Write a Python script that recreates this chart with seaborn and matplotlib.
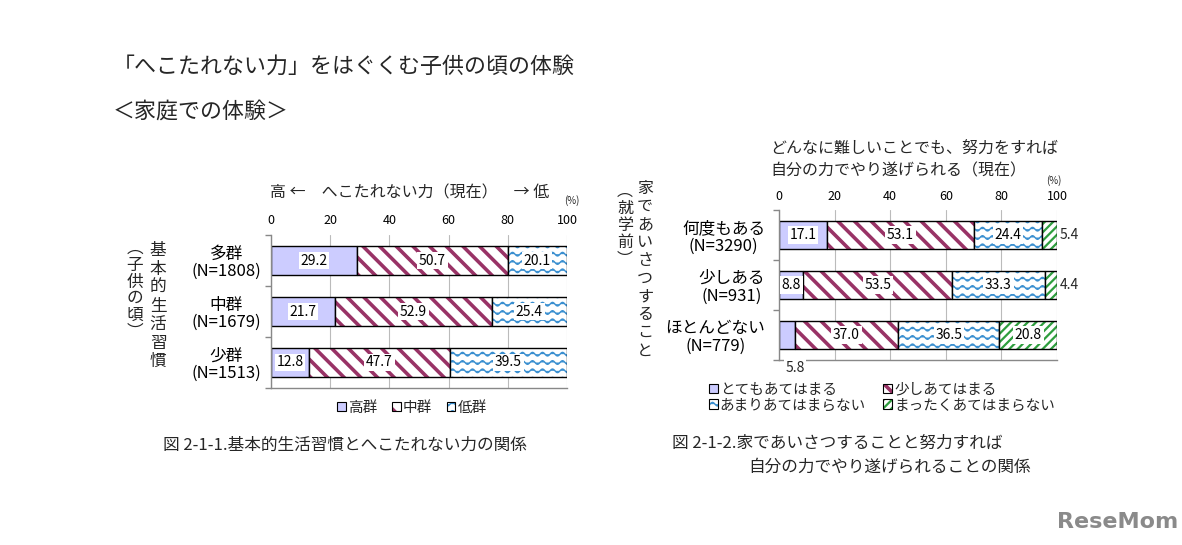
import numpy as np
import pandas as pd
import matplotlib
matplotlib.use("Agg")
import matplotlib.pyplot as plt
import matplotlib.hatch as mhatch
from matplotlib.path import Path
from matplotlib.patches import Patch
from matplotlib.colors import to_rgba
import seaborn as sns

# ---------------- data ----------------
left_categories = ["多群\n(N=1808)", "中群\n(N=1679)", "少群\n(N=1513)"]
left_series = ["高群", "中群", "低群"]
left_high = [29.2, 21.7, 12.8]
left_mid = [50.7, 52.9, 47.7]
left_low = [20.1, 25.4, 39.5]

right_categories = ["何度もある\n(N=3290)", "少しある\n(N=931)", "ほとんどない\n(N=779)"]
right_series = ["とてもあてはまる", "少しあてはまる", "あまりあてはまらない", "まったくあてはまらない"]
right_very = [17.1, 8.8, 5.8]
right_some = [53.1, 53.5, 37.0]
right_notmuch = [24.4, 33.3, 36.5]
right_notatall = [5.4, 4.4, 20.8]

x_ticks = [0, 20, 40, 60, 80, 100]


# ---------------- wavy hatch (replaces small circles 'o') ----------------
class WavyHatch(mhatch.HatchPatternBase):
    def __init__(self, hatch, density):
        self.num_lines = int(hatch.count("o") * density)
        self.npts = 161
        self.num_vertices = self.num_lines * self.npts

    def set_vertices_and_codes(self, vertices, codes):
        if self.num_lines == 0:
            return
        steps = (np.arange(self.num_lines) + 0.5) / self.num_lines
        xs = np.linspace(0.0, 1.0, self.npts)
        wave = 0.018 * np.sin(2 * np.pi * 10 * xs)
        n = self.npts
        for i, s in enumerate(steps):
            vertices[i * n:(i + 1) * n, 0] = xs
            vertices[i * n:(i + 1) * n, 1] = s + wave
            codes[i * n] = Path.MOVETO
            codes[i * n + 1:(i + 1) * n] = Path.LINETO


mhatch._hatch_types = [WavyHatch if t is mhatch.SmallCircles else t
                       for t in mhatch._hatch_types]

sns.set_theme(style="white")
plt.rcParams["font.family"] = ["Noto Sans CJK JP", "DejaVu Sans"]
plt.rcParams["hatch.linewidth"] = 1.0

W, H = 1182, 545
fig = plt.figure(figsize=(W / 100, H / 100), dpi=100)
fig.patch.set_facecolor("white")


def fx(px):
    return px / W


def fy(py):
    return 1 - py / H


STY = {
    "lav": dict(face="#CCCCFF", hatch=None, hcol=None, hlw=1.0),
    "mar": dict(face="white", hatch="\\\\", hcol="#993366", hlw=2.6),
    "wav": dict(face="white", hatch="oo", hcol="#3A8FD0", hlw=1.0),
    "grn": dict(face="white", hatch="////", hcol="#2E9E3E", hlw=1.6),
}


def style_patch(p, st):
    if st["hcol"] is not None:
        p._hatch_color = to_rgba(st["hcol"])
        if hasattr(p, "set_hatch_linewidth"):
            p.set_hatch_linewidth(st["hlw"])
        else:
            p._hatch_linewidth = st["hlw"]


def stacked(ax, cats, series_vals, styles):
    left = np.zeros(len(cats))
    for vals, key in zip(series_vals, styles):
        st = STY[key]
        n0 = len(ax.patches)
        df = pd.DataFrame({"cat": cats, "val": vals})
        sns.barplot(data=df, x="val", y="cat", orient="h", ax=ax,
                    left=left.copy(), color=st["face"], saturation=1,
                    edgecolor="black", linewidth=1.0, width=0.55,
                    hatch=st["hatch"], errorbar=None)
        for p in ax.patches[n0:]:
            style_patch(p, st)
        left += np.array(vals)


def style_axes(ax, pad_y, pad_x):
    ax.set_xlim(0, 100)
    ax.set_ylim(2.5, -0.5)
    ax.set_xlabel("")
    ax.set_ylabel("")
    ax.set_xticks(x_ticks)
    ax.xaxis.tick_top()
    ax.tick_params(axis="x", length=0, labelsize=9, pad=pad_x, colors="black")
    ax.tick_params(axis="y", which="major", length=0, labelsize=12, pad=pad_y)
    ax.set_yticks([-0.5, 0.5, 1.5, 2.5], minor=True)
    ax.tick_params(axis="y", which="minor", length=4, color="#888888",
                   direction="out", left=True)
    for lab in ax.get_yticklabels():
        lab.set_multialignment("center")
        lab.set_linespacing(1.05)
        lab.set_color("black")
    ax.grid(axis="x", color="#BBBBBB", linewidth=0.8)
    ax.set_axisbelow(True)
    for s in ["top", "right"]:
        ax.spines[s].set_visible(False)
    for s in ["left", "bottom"]:
        ax.spines[s].set_color("#888888")
        ax.spines[s].set_linewidth(1.0)


def seg_labels(ax, series_vals, skip=()):
    for i in range(len(series_vals[0])):
        acc = 0
        for j, vals in enumerate(series_vals):
            v = vals[i]
            if (i, j) not in skip:
                ax.text(acc + v / 2, i, f"{v:.1f}", ha="center", va="center",
                        fontsize=10, color="black",
                        bbox=dict(boxstyle="square,pad=0.12", fc="white", ec="none"))
            acc += v


# ---------------- left chart ----------------
axL = fig.add_axes([fx(271), fy(388), fx(567) - fx(271), fy(235) - fy(388)])
left_vals = [left_high, left_mid, left_low]
stacked(axL, left_categories, left_vals, ["lav", "mar", "wav"])
style_axes(axL, pad_y=7, pad_x=6)
seg_labels(axL, left_vals)

hL = [Patch(facecolor=STY[k]["face"], hatch=STY[k]["hatch"], edgecolor="black",
            linewidth=0.8, label=lab) for k, lab in zip(["lav", "mar", "wav"], left_series)]
legL = fig.legend(handles=hL, loc="center", bbox_to_anchor=(fx(412), fy(408)),
                  ncol=3, frameon=False, fontsize=10.5, handlelength=0.6,
                  handleheight=0.6, handletextpad=0.15, columnspacing=1.0)
for p, k in zip(legL.get_patches(), ["lav", "mar", "wav"]):
    style_patch(p, STY[k])

fig.text(fx(410), fy(193), "高 ←　へこたれない力（現在）　→ 低", ha="center",
         va="center", fontsize=11.5)
fig.text(fx(572), fy(201), "(%)", ha="center", va="center", fontsize=7)

fig.text(fx(158), fy(242), "\n".join("基本的生活習慣"), ha="center", va="top",
         fontsize=12, linespacing=1.12)
fig.text(fx(135), fy(240), "\n".join("︵子供の頃︶"), ha="center", va="top",
         fontsize=12, linespacing=0.98)

fig.text(fx(163), fy(445), "図 2-1-1.基本的生活習慣とへこたれない力の関係",
         ha="left", va="center", fontsize=12)

# ---------------- right chart ----------------
axR = fig.add_axes([fx(779), fy(360), fx(1057) - fx(779), fy(210) - fy(360)])
right_vals = [right_very, right_some, right_notmuch, right_notatall]
stacked(axR, right_categories, right_vals, ["lav", "mar", "wav", "grn"])
style_axes(axR, pad_y=10, pad_x=5)
seg_labels(axR, right_vals, skip={(0, 3), (1, 3), (2, 0)})
for i in (0, 1):
    axR.text(104.5, i, f"{right_notatall[i]:.1f}", ha="center", va="center",
             fontsize=10, clip_on=False)
axR.text(right_very[2], 2.65, f"{right_very[2]:.1f}", ha="center", va="center",
         fontsize=10, clip_on=False,
         bbox=dict(boxstyle="square,pad=0.1", fc="white", ec="none"))

keysR = ["lav", "mar", "wav", "grn"]
hR = [Patch(facecolor=STY[k]["face"], hatch=STY[k]["hatch"], edgecolor="black",
            linewidth=0.8, label=lab) for k, lab in zip(keysR, right_series)]
orderR = [0, 2, 1, 3]
legR = fig.legend(handles=[hR[i] for i in orderR], loc="upper left",
                  bbox_to_anchor=(fx(700), fy(374)), ncol=2, frameon=False,
                  fontsize=10.5, handlelength=0.6, handleheight=0.6,
                  handletextpad=0.15, columnspacing=1.2, labelspacing=0.1,
                  borderpad=0.1)
for p, i in zip(legR.get_patches(), orderR):
    style_patch(p, STY[keysR[i]])

fig.text(fx(770), fy(148), "どんなに難しいことでも、努力をすれば", ha="left",
         va="center", fontsize=11.5)
fig.text(fx(770), fy(171), "自分の力でやり遂げられる（現在）", ha="left",
         va="center", fontsize=11.5)
fig.text(fx(1054), fy(181), "(%)", ha="center", va="center", fontsize=7)

fig.text(fx(645), fy(180), "\n".join("家であいさつすること"), ha="center", va="top",
         fontsize=11.5, linespacing=1.08)
fig.text(fx(625), fy(183), "\n".join("︵就学前︶"), ha="center", va="top",
         fontsize=11.5, linespacing=1.0)

fig.text(fx(672), fy(443), "図 2-1-2.家であいさつすることと努力すれば",
         ha="left", va="center", fontsize=12)
fig.text(fx(748), fy(467), "自分の力でやり遂げられることの関係",
         ha="left", va="center", fontsize=12)

# ---------------- titles ----------------
fig.text(fx(113), fy(67), "「へこたれない力」をはぐくむ子供の頃の体験", ha="left",
         va="center", fontsize=15.8)
fig.text(fx(113), fy(112), "＜家庭での体験＞", ha="left", va="center", fontsize=15.8)

fig.text(fx(1118), fy(522), "ReseMom", ha="center", va="center", fontsize=16,
         fontweight="bold", color="#8A8A8A", family=["DejaVu Sans"])

fig.savefig("out.png", dpi=100, facecolor="white")
